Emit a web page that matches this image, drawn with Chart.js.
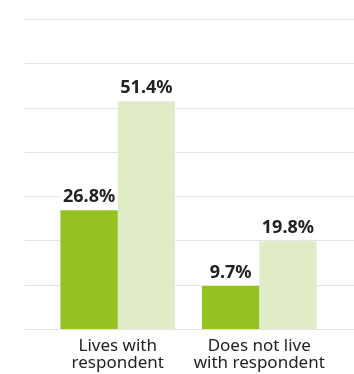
<!DOCTYPE html>
<html>
<head>
<meta charset="utf-8">
<script src="https://cdn.jsdelivr.net/npm/chart.js@4"></script>
<style>
  html, body { margin: 0; padding: 0; background: #fff; overflow: hidden; }
  #wrap { width: 354px; height: 381px; position: relative; }
</style>
</head>
<body>
<div id="wrap"><canvas id="myChart"></canvas></div>
<script>
const categories = [["Lives with", "respondent"], ["Does not live", "with respondent"]];
const darkValues = [26.8, 9.7];
const lightValues = [51.4, 19.8];
const yTicks = [0, 10, 20, 30, 40, 50, 60, 70];

// horizontal rules run wider than the plot area, so draw them by hand
const gridLines = {
  id: "gridLines",
  beforeDatasetsDraw(chart) {
    const ctx = chart.ctx;
    const y = chart.scales.y;
    ctx.save();
    ctx.strokeStyle = "#e4e4e4";
    ctx.lineWidth = 1;
    yTicks.forEach(v => {
      const py = Math.round(y.getPixelForValue(v)) + 0.5;
      ctx.beginPath();
      ctx.moveTo(25, py);
      ctx.lineTo(chart.width, py);
      ctx.stroke();
    });
    ctx.restore();
  }
};

// value labels above each bar, on a white patch
const barLabels = {
  id: "barLabels",
  afterDatasetsDraw(chart) {
    const ctx = chart.ctx;
    ctx.save();
    ctx.font = "bold 18px 'Noto Sans'";
    ctx.textAlign = "center";
    ctx.textBaseline = "alphabetic";
    chart.data.datasets.forEach((ds, i) => {
      chart.getDatasetMeta(i).data.forEach((bar, j) => {
        const text = ds.data[j].toFixed(1) + "%";
        const w = ctx.measureText(text).width;
        const by = bar.y - 8;
        ctx.fillStyle = "#fff";
        ctx.fillRect(bar.x - w / 2 - 2, by - 15, w + 4, 18);
        ctx.fillStyle = "#222";
        ctx.fillText(text, bar.x, by);
      });
    });
    ctx.restore();
  }
};

new Chart(document.getElementById("myChart").getContext("2d"), {
  type: "bar",
  data: {
    labels: categories,
    datasets: [
      {
        label: "dark",
        data: darkValues,
        backgroundColor: "#95c123",
        categoryPercentage: 0.81,
        barPercentage: 1
      },
      {
        label: "light",
        data: lightValues,
        backgroundColor: "#e0ecc8",
        categoryPercentage: 0.81,
        barPercentage: 1
      }
    ]
  },
  options: {
    responsive: true,
    maintainAspectRatio: false,
    animation: false,
    layout: { padding: { left: 47, right: 24, top: 19, bottom: 0 } },
    plugins: {
      legend: { display: false },
      tooltip: { enabled: false }
    },
    scales: {
      y: {
        display: false,
        min: 0,
        max: 70,
        ticks: { stepSize: 10 }
      },
      x: {
        grid: { display: false, drawTicks: false },
        border: { display: false },
        ticks: {
          color: "#222",
          padding: 9,
          font: { family: "'Noto Sans'", size: 17, lineHeight: 1.0 }
        }
      }
    }
  },
  plugins: [gridLines, barLabels]
});
</script>
</body>
</html>
